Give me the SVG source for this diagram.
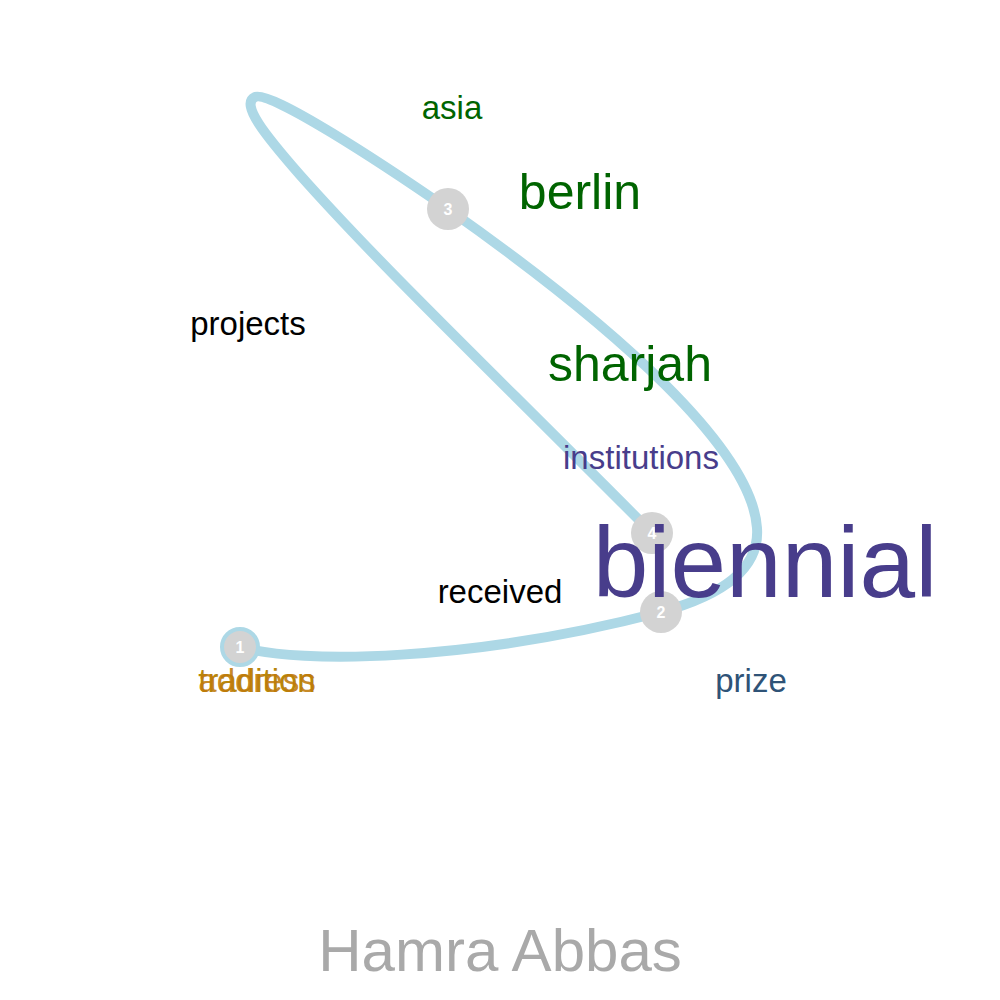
<svg xmlns="http://www.w3.org/2000/svg" width="1000" height="1000" viewBox="0 0 1000 1000">
<style>
text{font-family:"Liberation Sans",Arial,sans-serif;text-anchor:middle}
.w{font-size:33px}
.m{font-size:50px}
.g{fill:#006400}
.s{fill:#483D8B}
.node{fill:#D3D3D3}
.num{font-size:16px;font-weight:bold;fill:#ffffff}
</style>
<rect width="1000" height="1000" fill="#ffffff"/>
<g id="connectors">
<path d="M240,647 C300,664 470,662 661,612 C720,596 760,570 757,528 C752,450 620,330 448,209 C380,162 270,90 255,97 C240,104 265,135 300,175 C380,265 480,360 652,533" fill="none" stroke="#ADD8E6" stroke-width="10" stroke-linecap="round"/>
</g>
<g id="node1"><circle class="node" cx="240" cy="647" r="18" stroke="#ADD8E6" stroke-width="4"/><text class="num" x="240" y="653">1</text></g>
<g id="node2"><circle class="node" cx="661" cy="612" r="21"/><text class="num" x="661" y="618">2</text></g>
<g id="node3"><circle class="node" cx="448" cy="209" r="21"/><text class="num" x="448" y="215">3</text></g>
<g id="node4"><circle class="node" cx="652" cy="533" r="21"/><text class="num" x="652" y="539">4</text></g>
<g id="words">
<text class="w g" x="452" y="119">asia</text>
<text class="m g" x="580" y="209">berlin</text>
<text class="w" x="248" y="335" fill="#000">projects</text>
<text class="m g" x="630" y="381">sharjah</text>
<text class="w s" x="641" y="469">institutions</text>
<text class="s" x="765" y="597" font-size="100">biennial</text>
<text class="w" x="500" y="603" fill="#000">received</text>
<text class="w" x="751" y="692" fill="#2F5377">prize</text>
<text class="w" x="257" y="692" fill="#B8860B">tradition</text>
<text class="w" x="257" y="692" fill="#C07A0A" fill-opacity="0.9">address</text>
</g>
<text id="title" x="500" y="971" font-size="60" fill="#A9A9A9">Hamra Abbas</text>
</svg>
